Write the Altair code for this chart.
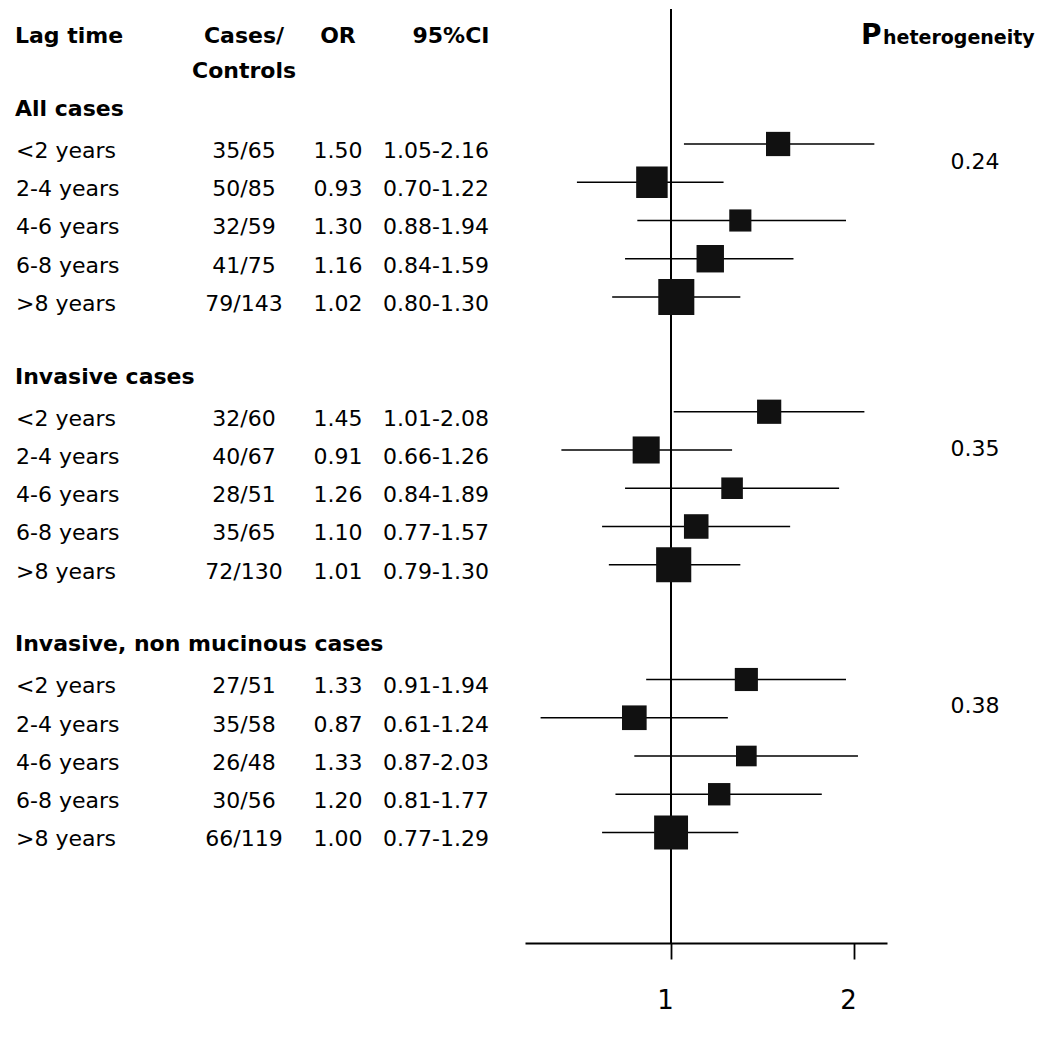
import altair as alt
import pandas as pd

# ---------------- data ----------------
groups = ["All cases", "Invasive cases", "Invasive, non mucinous cases"]
lag_times = ["<2 years", "2-4 years", "4-6 years", "6-8 years", ">8 years"]
cases_controls = [
    "35/65", "50/85", "32/59", "41/75", "79/143",
    "32/60", "40/67", "28/51", "35/65", "72/130",
    "27/51", "35/58", "26/48", "30/56", "66/119",
]
odds_ratio = [
    1.50, 0.93, 1.30, 1.16, 1.02,
    1.45, 0.91, 1.26, 1.10, 1.01,
    1.33, 0.87, 1.33, 1.20, 1.00,
]
ci_low = [
    1.05, 0.70, 0.88, 0.84, 0.80,
    1.01, 0.66, 0.84, 0.77, 0.79,
    0.91, 0.61, 0.87, 0.81, 0.77,
]
ci_high = [
    2.16, 1.22, 1.94, 1.59, 1.30,
    2.08, 1.26, 1.89, 1.57, 1.30,
    1.94, 1.24, 2.03, 1.77, 1.29,
]
p_heterogeneity = ["0.24", "0.35", "0.38"]
p_row = [3.3, 10.8, 17.5]
header_labels = ["Lag time", "Cases/", "Controls", "OR", "95%CI"]
header_rows = [0, 0, 0.92, 0, 0]
axis_ticks = [1, 2]

# ---------------- tables ----------------
recs = []
for g, gname in enumerate(groups):
    for i, lag in enumerate(lag_times):
        k = g * 5 + i
        recs.append({
            "row": 3 + 7 * g + i,
            "lag": lag,
            "cc": cases_controls[k],
            "orv": odds_ratio[k],
            "ortxt": f"{odds_ratio[k]:.2f}",
            "lo": ci_low[k],
            "hi": ci_high[k],
            "citxt": f"{ci_low[k]:.2f}-{ci_high[k]:.2f}",
        })
df = pd.DataFrame(recs)
grp = pd.DataFrame({"row": [1.9 + 7 * g for g in range(len(groups))], "label": groups})
hdr = pd.DataFrame({"row": header_rows, "label": header_labels})
pdf = pd.DataFrame({"row": p_row, "label": p_heterogeneity})
ptitle = pd.DataFrame({"row": [0], "big": ["P"], "sub": ["heterogeneity"]})

FONT = "DejaVu Sans"
H = 934
yscale = alt.Scale(domain=[-0.529, 23.889], reverse=True, nice=False, zero=False)
Y = alt.Y("row:Q", scale=yscale, axis=None)

def txt(data, field, xpos, align, bold=False, size=22, dy=7, baseline="middle"):
    return alt.Chart(data).mark_text(
        align=align, baseline=baseline, dy=dy, font=FONT, fontSize=size,
        fontWeight="bold" if bold else "normal", color="black",
    ).encode(x=alt.value(xpos), y=Y, text=f"{field}:N")

# ---------------- left table ----------------
h_lag = hdr[hdr.label == "Lag time"]
h_cc = hdr[hdr.label.isin(["Cases/", "Controls"])]
h_or = hdr[hdr.label == "OR"]
h_ci = hdr[hdr.label == "95%CI"]

table = alt.layer(
    txt(h_lag, "label", 7, "left", bold=True),
    txt(h_cc, "label", 236, "center", bold=True),
    txt(h_or, "label", 330, "center", bold=True),
    txt(h_ci, "label", 443, "center", bold=True),
    txt(grp, "label", 7, "left", bold=True),
    txt(df, "lag", 8, "left"),
    txt(df, "cc", 236, "center"),
    txt(df, "ortxt", 330, "center"),
    txt(df, "citxt", 428, "center"),
).properties(width=517, height=H)

# ---------------- forest plot ----------------
xscale = alt.Scale(type="log", domain=[0.575, 2.266], nice=False)
xaxis = alt.Axis(
    values=axis_ticks, title=None, grid=False, format="~g",
    tickSize=16, tickWidth=1.8, tickColor="black",
    domainWidth=1.8, domainColor="black",
    labelFont=FONT, labelFontSize=26, labelColor="black",
    labelPadding=28, labelOffset=-6,
)

ref = alt.Chart(df).mark_rule(color="black", strokeWidth=1.8).encode(
    x=alt.datum(1, scale=xscale, axis=xaxis)
)
ci = alt.Chart(df).mark_rule(color="black", strokeWidth=1.7).encode(
    x=alt.X("lo:Q", scale=xscale, axis=xaxis), x2="hi:Q", y=Y
)
squares = alt.Chart(df).transform_calculate(
    w="1/pow(log(datum.hi/datum.lo), 2)"
).mark_square(filled=True, color="#111111", opacity=1).encode(
    x=alt.X("orv:Q", scale=xscale, axis=xaxis),
    y=Y,
    size=alt.Size("w:Q", scale=alt.Scale(domain=[0, 5], range=[0, 1531]), legend=None),
)
p_big = alt.Chart(ptitle).mark_text(
    align="left", baseline="alphabetic", dy=15, font=FONT, fontSize=28,
    fontWeight="bold", color="black",
).encode(x=alt.value(336), y=Y, text="big:N")
p_sub = alt.Chart(ptitle).mark_text(
    align="left", baseline="alphabetic", dy=15, font=FONT, fontSize=19,
    fontWeight="bold", color="black",
).encode(x=alt.value(358), y=Y, text="sub:N")
pvals = txt(pdf, "label", 450, "center")

forest = alt.layer(ref, ci, squares, p_big, p_sub, pvals).properties(width=362, height=H)

chart = alt.hconcat(table, forest, spacing=0).properties(
    padding=0, background="white"
).configure_view(stroke=None)

chart.save("out.html", embed_options={"renderer": "svg", "actions": False})
